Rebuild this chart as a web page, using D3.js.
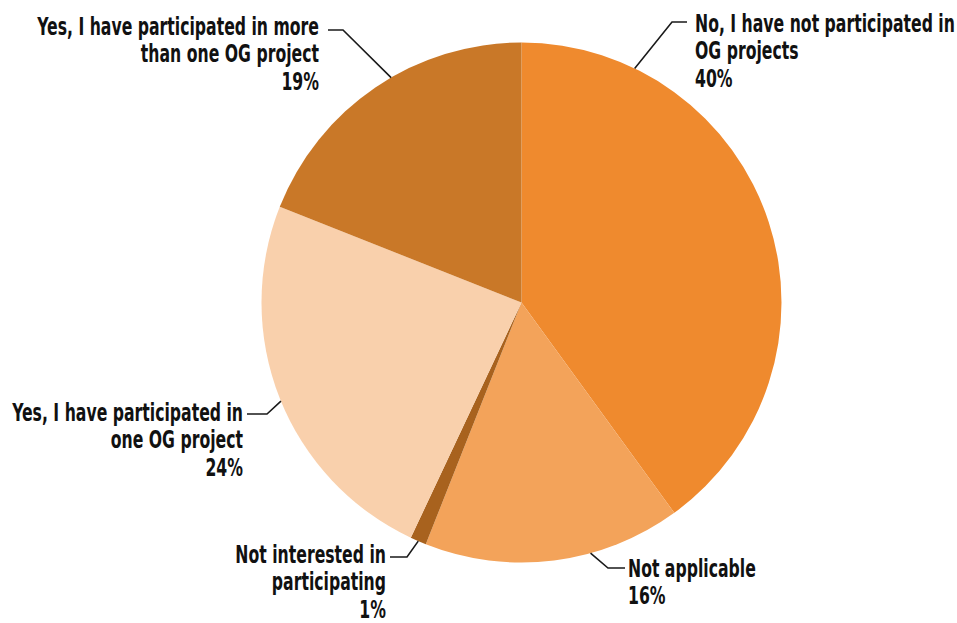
<!DOCTYPE html>
<html>
<head>
<meta charset="utf-8">
<script src="https://cdn.jsdelivr.net/npm/d3@7"></script>
<style>
  html, body { margin: 0; padding: 0; background: #ffffff; }
  svg { display: block; }
  .lbl { font-family: "DejaVu Sans Condensed", "DejaVu Sans", sans-serif; font-weight: bold; font-size: 24px; fill: #111111; }
</style>
</head>
<body>
<svg id="chart" width="957" height="623"></svg>
<script>
// Survey answers, in drawing order (clockwise from 12 o'clock)
const categories = [
  "No, I have not participated in OG projects",
  "Not applicable",
  "Not interested in participating",
  "Yes, I have participated in one OG project",
  "Yes, I have participated in more than one OG project"
];
const shares = [40, 16, 1, 24, 19];
const sliceColors = ["#EF8A2E", "#F3A35A", "#A8621E", "#F9D0AC", "#C97828"];

// Label text, split over lines as shown next to each slice
const labelLines = [
  ["No, I have not participated in", "OG projects"],
  ["Not applicable"],
  ["Not interested in", "participating"],
  ["Yes, I have participated in", "one OG project"],
  ["Yes, I have participated in more", "than one OG project"]
];

// Label placement: text anchor point, alignment, leader elbow and where the leader touches the pie
const labelLayout = [
  { x: 695, y: 32,  anchor: "start", elbow: [672, 22],  end: [687, 22],  touch: 25.8 },
  { x: 628, y: 577, anchor: "start", elbow: [608, 568], end: [625, 568], touch: 164.6 },
  { x: 386, y: 563, anchor: "end",   elbow: [407, 557], end: [390, 557], touch: null },
  { x: 243, y: 421, anchor: "end",   elbow: [267, 414], end: [247, 414], touch: 247.7 },
  { x: 319, y: 35,  anchor: "end",   elbow: [343, 30],  end: [328, 30],  touch: 329.9 }
];

const svg = d3.select("#chart");
const cx = 521.5, cy = 302.5, radius = 260;
const lineHeight = 27.5;
const refLineWidth = 260; // set width of the widest line of the top-right label

const pie = d3.pie().sort(null).value(d => d)(shares);
const arc = d3.arc().innerRadius(0).outerRadius(radius);

const g = svg.append("g").attr("transform", `translate(${cx},${cy})`);

g.selectAll("path.slice")
  .data(pie)
  .join("path")
  .attr("class", "slice")
  .attr("d", arc)
  .attr("fill", (d, i) => sliceColors[i]);

// Condensed lettering: measure one line and squeeze all labels by the same factor
const probe = svg.append("text").attr("class", "lbl").text(labelLines[0][0]);
const squeeze = refLineWidth / probe.node().getComputedTextLength();
probe.remove();

const edgePoint = (angleDeg) => {
  const a = angleDeg * Math.PI / 180;
  return [cx + radius * Math.sin(a), cy - radius * Math.cos(a)];
};

pie.forEach((d, i) => {
  const L = labelLayout[i];
  const touchDeg = L.touch !== null ? L.touch : ((d.startAngle + d.endAngle) / 2) * 180 / Math.PI;
  const p0 = edgePoint(touchDeg);
  svg.append("polyline")
    .attr("points", [p0, L.elbow, L.end].map(p => p.join(",")).join(" "))
    .attr("fill", "none")
    .attr("stroke", "#1a1a1a")
    .attr("stroke-width", 1.6);

  const t = svg.append("text")
    .attr("class", "lbl")
    .attr("text-anchor", L.anchor)
    .attr("transform", `translate(${L.x},${L.y}) scale(${squeeze},1)`);
  const lines = labelLines[i].concat([shares[i] + "%"]);
  lines.forEach((s, k) => {
    t.append("tspan")
      .attr("x", 0)
      .attr("y", k * lineHeight)
      .text(s);
  });
});
</script>
</body>
</html>
